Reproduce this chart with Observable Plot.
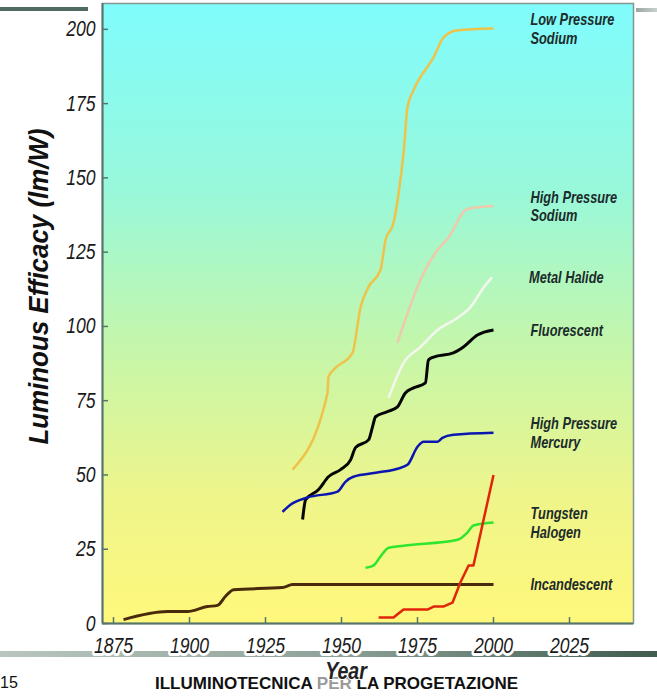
<!DOCTYPE html>
<html>
<head>
<meta charset="utf-8">
<script src="https://cdn.jsdelivr.net/npm/d3@7"></script>
<script src="https://cdn.jsdelivr.net/npm/@observablehq/plot@0.6"></script>
<style>
  body { margin: 0; background: #fff; }
  #wrap { position: relative; width: 657px; height: 700px; overflow: hidden; }
  .deco { position: absolute; }
  #chart { position: absolute; left: 0; top: 0; }
  #slideNum { position: absolute; left: 0; top: 675px; font: 16px/16px 'Liberation Sans', Arial, sans-serif; color: #111; }
  #footer { position: absolute; left: 155px; top: 675px; font: bold 17px/17px 'Liberation Sans', Arial, sans-serif; color: #111; white-space: nowrap; }
  #footer .faded { color: #9a9a9a; }
</style>
</head>
<body>
<div id="wrap">
  <div class="deco" style="left:0;top:7px;width:88px;height:4px;background:#4f6b60"></div>
  <div class="deco" style="left:636px;top:8px;width:21px;height:4px;background:linear-gradient(90deg,#98a6a0,#c9d1cd)"></div>
  <div class="deco" style="left:0;top:651px;width:657px;height:6px;background:linear-gradient(90deg,#b9c6c0,#8fa39a 50%,#3f5c4f)"></div>
  <div id="slideNum">15</div>
  <div id="footer">ILLUMINOTECNICA <span class="faded">PER</span> LA PROGETAZIONE</div>
  <div id="chart"></div>
</div>
<script>
// ---- data ----
const xTicks = [1875, 1900, 1925, 1950, 1975, 2000, 2025];
const yTicks = [0, 25, 50, 75, 100, 125, 150, 175, 200];

const lowPressureSodium = [[1933.9,51.8],[1945.4,77.6],[1945.7,83.0],[1947.4,85.4],[1953.6,91.1],[1956.3,106.6],[1958.9,113.3],[1962.8,119.0],[1964.5,129.1],[1967.1,134.8],[1968.8,144.9],[1970.4,158.3],[1971.7,173.8],[1973.7,179.5],[1980.3,190.6],[1983.6,197.3],[1988.2,199.7],[2000,200.3]];
const highPressureSodium = [[1968.4,94.5],[1977,118],[1981.6,125.7],[1984.9,129.5],[1991.4,139.5],[2000,140.5]];
const metalHalide = [[1965.5,76.0],[1967.8,82.0],[1970.4,87.7],[1976,93.1],[1981.6,98.8],[1988.2,102.9],[1992.4,106.5],[1996.7,113],[1999.5,116.5]];
const fluorescent = [[1937.2,35],[1938.2,41.7],[1942.4,45],[1945.7,49.4],[1949.7,51.8],[1953,55.1],[1954.6,59.2],[1958.9,61.8],[1960.2,66.2],[1961.2,69.6],[1965.1,71.3],[1968.4,72.9],[1971,77.6],[1973.7,79.3],[1977.6,81],[1978.6,88.7],[1980.3,89.7],[1986.8,91.1],[1990.1,93.1],[1994.7,97.1],[2000,98.8]];
const highPressureMercury = [[1930.6,37.6],[1933.2,40.0],[1938.8,42.4],[1948.7,44.4],[1951.3,47.7],[1953.9,49.4],[1961.8,50.8],[1968.4,52.1],[1971.7,53.4],[1975,59.5],[1977,61.2],[1981.6,61.2],[1983.2,62.5],[1986.8,63.5],[2000,64.2]];
const tungstenHalogen = [[1957.9,18.8],[1960.5,19.5],[1962.8,22.5],[1965.5,25.5],[1970.4,26.2],[1988.2,28.2],[1991.4,30.6],[1993.4,33],[2000,34]];
const incandescent = [[1878.3,1.3],[1892.8,4.0],[1899.3,4.0],[1905.9,5.7],[1909.2,6.1],[1911.8,9.1],[1914.5,11.4],[1930.6,12.1],[1933.9,13.1],[2000,13.1]];
const redSeries = [[1962.2,2],[1967.1,2],[1970.4,4.7],[1978.3,4.7],[1980.3,5.7],[1983.5,5.7],[1986.5,7],[1989.1,13.8],[1991.8,19.5],[1993.4,19.5],[2000,50]];

const seriesNames = ["Low Pressure\nSodium", "High Pressure\nSodium", "Metal Halide", "Fluorescent", "High Pressure\nMercury", "Tungsten\nHalogen", "Incandescent", ""];
const seriesData = [lowPressureSodium, highPressureSodium, metalHalide, fluorescent, highPressureMercury, tungstenHalogen, incandescent, redSeries];
const yTitle = "Luminous Efficacy (lm/W)";
const xTitle = "Year";

// ---- styles ----
const seriesColors = ["#efc24a", "#efc9ab", "#f4f7f0", "#050505", "#0b16b0", "#2ee62e", "#4a2a0c", "#e0250a"];
const seriesWidths = [2.5, 2.5, 2.5, 3, 2.5, 2.5, 3, 2.5];
const seriesCurves = ["monotone-x", "monotone-x", "monotone-x", "monotone-x", "monotone-x", "monotone-x", "monotone-x", "linear"];
const font = "'Liberation Sans', Arial, sans-serif";
const condenseDefault = 0.8;
const condenseByText = {[yTitle]: 0.96, [xTitle]: 0.85};
const axisColor = "#56756a";

const xDomain = [1871.38, 2046.05];
const yDomain = [0, 208.7];

const rows = seriesData.map((s, i) => s.map(([year, value]) => ({series: i, year, value})));
const labels = seriesData.map((s, i) => ({name: seriesNames[i], year: s[s.length - 1][0], value: s[s.length - 1][1]})).filter(d => d.name);

const gradientDefs = () => {
  const defs = d3.create("svg:defs");
  const g = defs.append("linearGradient").attr("id", "bgGrad").attr("x1", 0).attr("y1", 0).attr("x2", 0).attr("y2", 1);
  g.append("stop").attr("offset", "0%").attr("stop-color", "#80fcfd");
  g.append("stop").attr("offset", "30%").attr("stop-color", "#98f8da");
  g.append("stop").attr("offset", "55%").attr("stop-color", "#c4f6ab");
  g.append("stop").attr("offset", "80%").attr("stop-color", "#eff58a");
  g.append("stop").attr("offset", "100%").attr("stop-color", "#fff87c");
  return defs.node();
};

const plotW = 657 - 102 - 24;
const plotH = 700 - 3 - 77;

const chart = Plot.plot({
  width: 657,
  height: 700,
  marginLeft: 102,
  marginRight: 24,
  marginTop: 3,
  marginBottom: 77,
  style: {background: "transparent", overflow: "visible"},
  x: {domain: xDomain},
  y: {domain: yDomain},
  marks: [
    gradientDefs,
    Plot.frame({fill: "url(#bgGrad)", stroke: "#83968f", strokeWidth: 1.5}),
    Plot.ruleX([xDomain[0]], {stroke: axisColor, strokeWidth: 2}),
    Plot.ruleY([yDomain[0]], {stroke: axisColor, strokeWidth: 2}),
    Plot.tickX(xTicks, {x: d => d, stroke: axisColor, strokeWidth: 1.5, insetTop: plotH - 6}),
    Plot.tickY(yTicks, {y: d => d, stroke: axisColor, strokeWidth: 1.5, insetRight: plotW - 6}),
    ...rows.map((r, i) => Plot.line(r, {x: "year", y: "value", stroke: seriesColors[i], strokeWidth: seriesWidths[i], curve: seriesCurves[i], strokeLinecap: "butt", strokeLinejoin: "round"})),
    Plot.text(labels, {x: "year", y: "value", text: "name", dx: 37, dy: 0, textAnchor: "start", lineHeight: 1.15, fontSize: 16, fontWeight: "bold", fontStyle: "italic", fontFamily: font, fill: "#1c2b2b"}),
    Plot.axisX(xTicks, {anchor: "bottom", tickSize: 0, tickPadding: 14, tickFormat: d => String(d), fontSize: 22, fontFamily: font, fontStyle: "italic", fill: "#1a1a1a", textStroke: "white", textStrokeWidth: 6, label: null}),
    Plot.axisY(yTicks, {anchor: "left", tickSize: 0, tickPadding: 7, tickFormat: d => String(d), fontSize: 22, fontFamily: font, fontStyle: "italic", fill: "#1a1a1a", label: null}),
    Plot.text([yTitle], {text: d => d, frameAnchor: "left", rotate: -90, dx: -63, dy: -27, textAnchor: "middle", fontSize: 27, fontWeight: "bold", fontStyle: "italic", fontFamily: font, fill: "#111"}),
    Plot.text([xTitle], {text: d => d, frameAnchor: "bottom", dx: -22, dy: 55, textAnchor: "middle", fontSize: 23, fontWeight: "bold", fontStyle: "italic", fontFamily: font, fill: "#222", stroke: "white", strokeWidth: 2, paintOrder: "stroke"})
  ]
});
// condense chart texts horizontally (narrow italic look)
d3.select(chart).selectAll("text").each(function() {
  const s = condenseByText[this.textContent] ?? condenseDefault;
  const t = this.getAttribute("transform") || "";
  this.setAttribute("transform", `${t} scale(${s},1)`.trim());
});
document.getElementById("chart").appendChild(chart);
</script>
</body>
</html>
